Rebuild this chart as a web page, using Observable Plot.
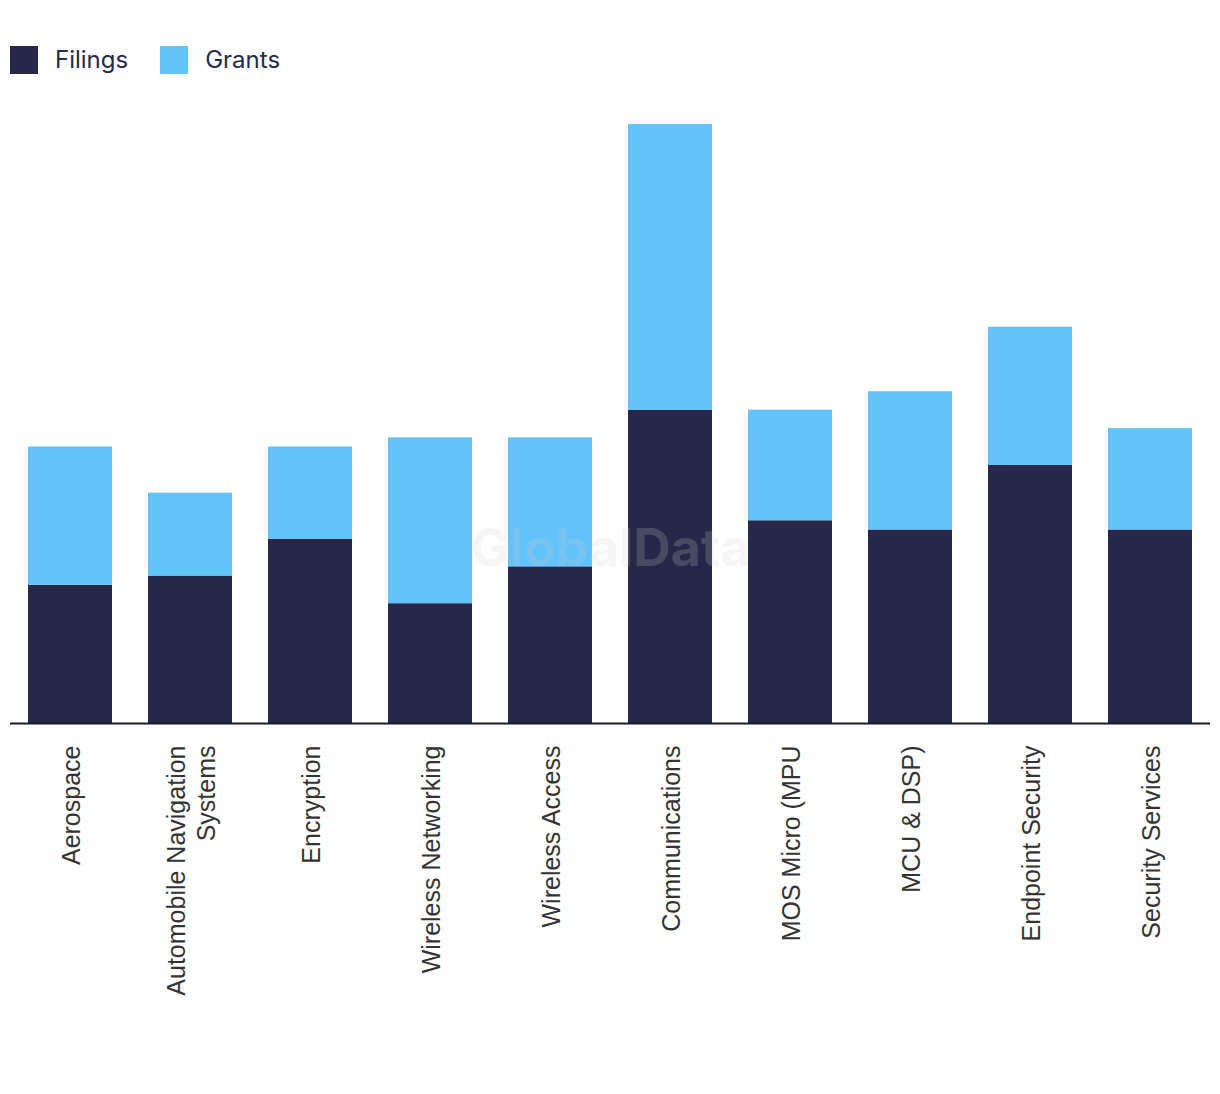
<!DOCTYPE html>
<html>
<head>
<meta charset="utf-8">
<script src="https://cdn.jsdelivr.net/npm/d3@7"></script>
<script src="https://cdn.jsdelivr.net/npm/@observablehq/plot@0.6"></script>
<style>
  html, body { margin: 0; padding: 0; background: #fff; }
  body { width: 1220px; height: 1094px; position: relative; overflow: hidden; }
  #legend { position: absolute; left: 10px; top: 45px; display: flex; align-items: center;
    font-family: Inter, "Noto Sans", sans-serif; font-size: 24px; color: #262a4a; }
  .item { display: flex; align-items: center; margin-right: 32px; }
  .sw { width: 28px; height: 28px; margin-right: 17px; }
  #chart { position: absolute; left: 0; top: 100px; }
</style>
</head>
<body>
<div id="legend"></div>
<div id="chart"></div>
<script>
const categories = ["Aerospace", "Automobile Navigation Systems", "Encryption", "Wireless Networking", "Wireless Access", "Communications", "MOS Micro (MPU", "MCU & DSP)", "Endpoint Security", "Security Services"];
const filings = [15, 16, 20, 13, 17, 34, 22, 21, 28, 21];
const grants  = [15, 9, 10, 18, 14, 31, 12, 15, 15, 11];
const seriesNames = ["Filings", "Grants"];
const seriesColors = ["#272849", "#62c2fa"];

const rows = [];
categories.forEach((c, i) => {
  rows.push({category: c, series: "Filings", value: filings[i]});
  rows.push({category: c, series: "Grants", value: grants[i]});
});

const legend = document.getElementById("legend");
seriesNames.forEach((s, i) => {
  const it = document.createElement("div");
  it.className = "item";
  it.innerHTML = `<div class="sw" style="background:${seriesColors[i]}"></div><span>${s}</span>`;
  legend.appendChild(it);
});

const chart = Plot.plot({
  width: 1220,
  height: 994,
  marginLeft: 10,
  marginRight: 10,
  marginTop: 24,
  marginBottom: 371,
  style: {fontFamily: "'Liberation Sans', Arial, sans-serif", background: "#fff"},
  x: {domain: categories, paddingInner: 0.3, paddingOuter: 0.15, axis: null},
  y: {domain: [0, 65], axis: null},
  color: {domain: seriesNames, range: seriesColors},
  marks: [
    Plot.barY(rows, Plot.stackY({x: "category", y: "value", fill: "series", order: seriesNames})),
    Plot.text(["GlobalData"], {frameAnchor: "middle", dy: 125, text: d => d, fontSize: 52, fontWeight: "bold",
      fontFamily: "Inter, 'Noto Sans', sans-serif", fill: "#ccc", fillOpacity: 0.2}),
    Plot.ruleY([0], {stroke: "#1b1b2f", strokeWidth: 2}),
    Plot.axisX({
      label: null,
      tickRotate: -90,
      tickSize: 0,
      tickPadding: 22,
      fontSize: 25,
      lineHeight: 1.2,
      fill: "#333",
      tickFormat: d => d === "Automobile Navigation Systems" ? "Automobile Navigation\nSystems" : d
    })
  ]
});
document.getElementById("chart").appendChild(chart);
</script>
</body>
</html>
